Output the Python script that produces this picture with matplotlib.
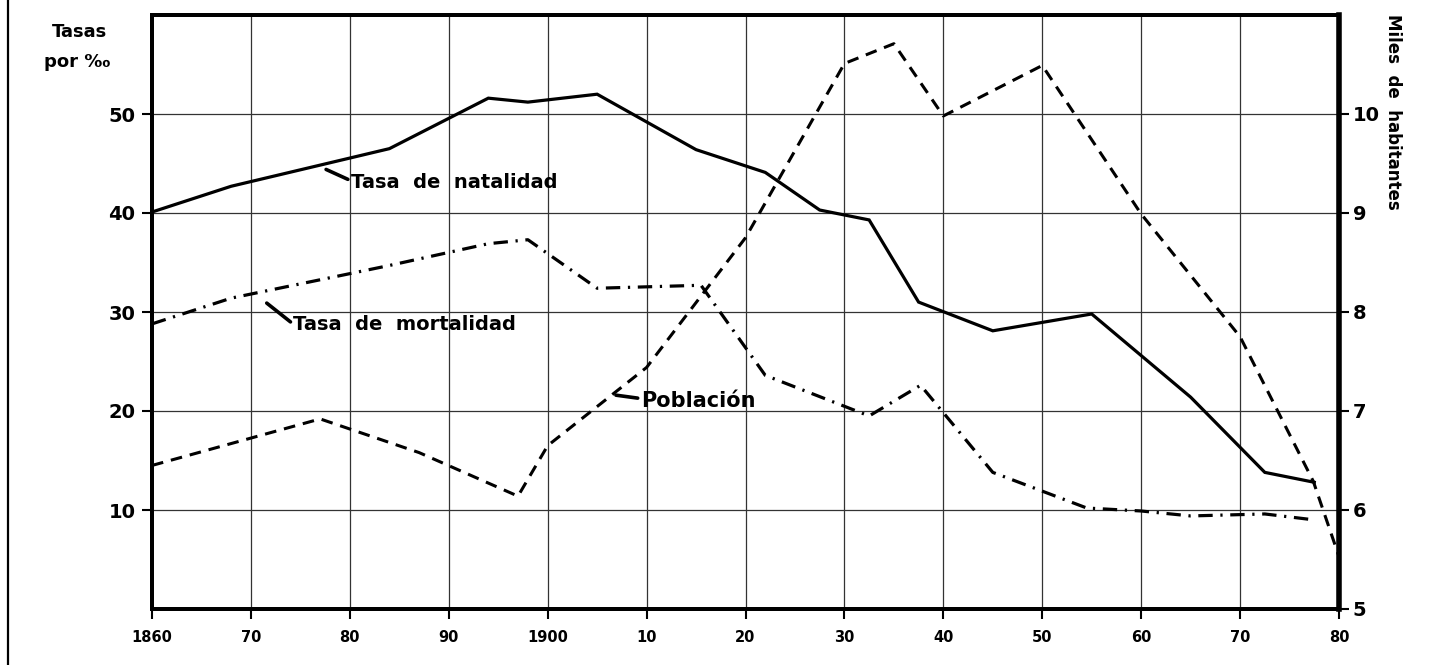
import matplotlib
matplotlib.use("Agg")
import matplotlib.pyplot as plt
from matplotlib.lines import Line2D

plt.rcParams['font.family'] = ['DejaVu Sans']

# natalidad / mortalidad (por mil)
years_rates = [1860, 1868, 1884, 1894, 1898, 1905, 1915, 1922, 1927.5, 1932.5,
               1937.5, 1945, 1955, 1965, 1972.5, 1977.5]
natalidad = [40.1, 42.7, 46.5, 51.6, 51.2, 52.0, 46.4, 44.1, 40.3, 39.3,
             31.0, 28.1, 29.8, 21.4, 13.8, 12.8]

years_mort = [1860, 1868, 1884, 1894, 1898, 1905, 1915.5, 1922, 1932.5, 1937.7,
              1945, 1954.5, 1960, 1965, 1972.5, 1977.5]
mortalidad = [28.8, 31.4, 34.7, 36.9, 37.3, 32.4, 32.7, 23.6, 19.5, 22.6,
              13.8, 10.2, 9.9, 9.4, 9.6, 9.0]

# poblacion (miles de habitantes)
years_pop = [1860, 1877, 1887, 1897, 1900, 1910, 1920, 1930, 1935, 1940,
             1950, 1960, 1970, 1977.4, 1980]
poblacion = [6.45, 6.92, 6.58, 6.14, 6.65, 7.44, 8.75, 10.51, 10.71, 9.98,
             10.49, 8.99, 7.75, 6.29, 5.53]

xticks = list(range(1860, 1981, 10))
xlabels = ["1860", "70", "80", "90", "1900", "10", "20", "30", "40", "50", "60", "70", "80"]
left_ticks = [10, 20, 30, 40, 50]
right_ticks = [5, 6, 7, 8, 9, 10]

fig = plt.figure(figsize=(14.3, 6.65), dpi=100)
ax = fig.add_axes([152 / 1430, 1 - 609 / 665, (1339 - 152) / 1430, (609 - 15) / 665])
ax2 = ax.twinx()

ax.set_xlim(1860, 1980)
ax.set_ylim(0, 60)
ax2.set_ylim(5, 11)

ax.grid(True, color='0.2', lw=0.9)
ax.set_axisbelow(True)

ax.plot(years_rates, natalidad, color='black', lw=2.3, solid_joinstyle='miter')
ax.plot(years_mort, mortalidad, color='black', lw=2.3,
        dashes=(4.5, 2.4, 0.7, 2.4))
ax2.plot(years_pop, poblacion, color='black', lw=2.2, dashes=(3.8, 2.6),
         clip_on=False)

ax.set_xticks(xticks)
ax.set_xticklabels(xlabels, fontsize=10.5, fontweight='bold')
ax.set_yticks(left_ticks)
ax.set_yticklabels([str(v) for v in left_ticks], fontsize=14, fontweight='bold')
ax2.set_yticks(right_ticks)
ax2.set_yticklabels([str(v) for v in right_ticks], fontsize=14, fontweight='bold')

ax.tick_params(axis='x', length=7, width=1.5, pad=8)
ax.tick_params(axis='y', length=7, width=1.5, pad=5)
ax2.tick_params(axis='y', length=7, width=1.5, pad=3)

for a in (ax, ax2):
    for s in a.spines.values():
        s.set_linewidth(2.8)
ax2.spines['right'].set_linewidth(4)

# rotulos de ejes
fig.text(80 / 1430, 1 - 32 / 665, "Tasas", ha='center', va='center',
         fontsize=13, fontweight='bold')
fig.text(77 / 1430, 1 - 62 / 665, "por ‰", ha='center', va='center',
         fontsize=13, fontweight='bold')
fig.text(1393 / 1430, 1 - 112 / 665, "Miles  de  habitantes", ha='center',
         va='center', rotation=-90, fontsize=12, fontweight='bold')

# etiquetas de las series con su trazo
def etiqueta(texto, x0, y0, x1, y1, size=14):
    ax.annotate("", xy=(x1, y1), xytext=(x0, y0),
                arrowprops=dict(arrowstyle='-', lw=2.6, color='black',
                                shrinkA=0, shrinkB=0))
    ax.text(x1 + 0.3, y1 - 0.3, texto, ha='left', va='center',
            fontsize=size, fontweight='bold')

etiqueta("Tasa  de  natalidad", 1877.6, 44.4, 1879.8, 43.4)
etiqueta("Tasa  de  mortalidad", 1871.6, 30.9, 1874.0, 29.0)
etiqueta("Población", 1906.9, 21.6, 1909.1, 21.3, size=15)

# borde izquierdo de la pagina
fig.add_artist(Line2D([8 / 1430, 8 / 1430], [0, 1], color='black', lw=1.6,
                      transform=fig.transFigure))

fig.savefig("out.png", dpi=100)
